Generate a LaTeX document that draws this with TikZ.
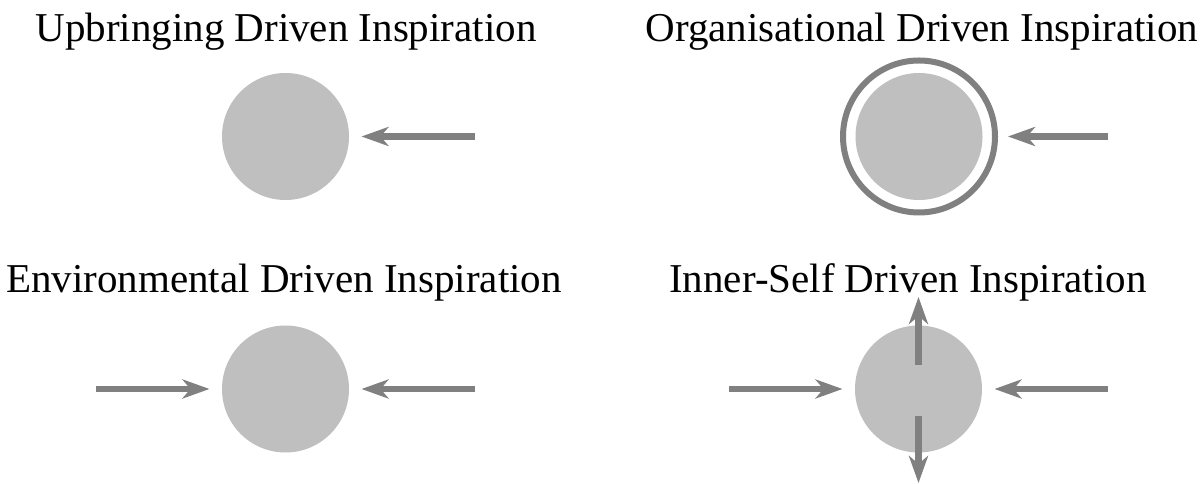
\documentclass[tikz,border=0pt]{standalone}
\usepackage{fontspec}
\setmainfont{Liberation Serif}
\usetikzlibrary{arrows.meta}
\definecolor{blobgray}{HTML}{BFBFBF}
\definecolor{arrgray}{HTML}{808080}

\begin{document}
\begin{tikzpicture}[x=1pt,y=1pt,
    blob/.style={circle,fill=blobgray,minimum size=127pt,inner sep=0pt,outer sep=12.5pt},
    ring/.style={circle,draw=arrgray,line width=6pt,minimum size=152pt,inner sep=0pt,outer sep=13pt},
    arr/.style={draw=arrgray,line width=6.3pt,-{Stealth[length=27pt,width=19pt,inset=8pt]}},
    title/.style={anchor=base,font=\fontsize{41}{49}\selectfont}]
      \useasboundingbox (0,0) rectangle (1200,484);
      % titles
      \node[title] (tUp) at (286,442) {Upbringing Driven Inspiration};
      \node[title] (tOrg) at (922,442) {Organisational Driven Inspiration};
      \node[title] (tEnv) at (284,191) {Environmental Driven Inspiration};
      \node[title] (tIn) at (908,191) {Inner-Self Driven Inspiration};
      % circles
      \node[blob] (upC) at (285.5,347.5) {};
      \node[blob] (orgC) at (919,347.5) {};
      \node[ring] (orgR) at (919,347.5) {};
      \node[blob] (envC) at (285.5,95) {};
      \node[blob] (inC) at (918.5,95) {};
      % free ends
      \coordinate (upE) at (475,347.5);
      \coordinate (orgE) at (1108,347.5);
      \coordinate (envW) at (96,95);
      \coordinate (envE) at (475,95);
      \coordinate (inW) at (729,95);
      \coordinate (inE) at (1108,95);
      \coordinate (inUpS) at (918.5,119);
      \coordinate (inUpT) at (918.5,187);
      \coordinate (inDnS) at (918.5,68);
      \coordinate (inDnT) at (918.5,1);
      % arrows
      \draw[arr] (upE) -- (upC);
      \draw[arr] (orgE) -- (orgR);
      \draw[arr] (envW) -- (envC);
      \draw[arr] (envE) -- (envC);
      \draw[arr] (inW) -- (inC);
      \draw[arr] (inE) -- (inC);
      \draw[arr] (inUpS) -- (inUpT);
      \draw[arr] (inDnS) -- (inDnT);
\end{tikzpicture}
\end{document}
